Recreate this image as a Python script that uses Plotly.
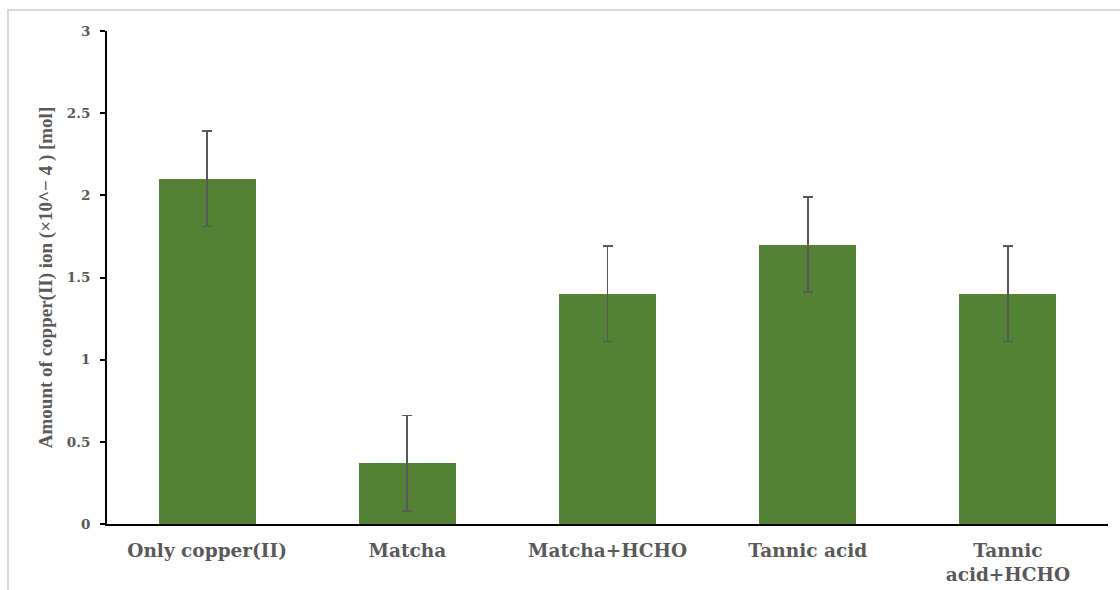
import plotly.graph_objects as go

categories = ["Only copper(II)", "Matcha", "Matcha+HCHO", "Tannic acid", "Tannic<br>acid+HCHO"]
amounts = [2.10, 0.37, 1.40, 1.70, 1.40]
errors = [0.29, 0.29, 0.29, 0.29, 0.29]
y_ticks = [0, 0.5, 1, 1.5, 2, 2.5, 3]
y_tick_labels = ["0", "0.5", "1", "1.5", "2", "2.5", "3"]

W, H = 1120, 590
L, R, T, B = 107, 12, 31, 66
pw, ph = W - L - R, H - T - B

def px_to_paper_x(px):
    return (px - L) / pw

def px_to_paper_y(py):
    return (H - B - py) / ph

WIDE = "DejaVu Serif"
SERIF = "Liberation Serif"
GRAY = "#595959"

fig = go.Figure()
fig.add_trace(go.Bar(
    x=categories,
    y=amounts,
    width=0.485,
    marker=dict(color="#548235", line=dict(width=0)),
    error_y=dict(type="data", array=errors, visible=True,
                 color=GRAY, thickness=1.8, width=5),
))

fig.update_layout(
    width=W, height=H,
    margin=dict(l=L, r=R, t=T, b=B, pad=0),
    plot_bgcolor="white", paper_bgcolor="white",
    showlegend=False,
    bargap=0,
    font=dict(family=SERIF, color=GRAY),
    xaxis=dict(
        showline=True, linecolor="black", linewidth=2,
        ticks="", showgrid=False, zeroline=False,
        tickfont=dict(family=WIDE, size=18.5, color=GRAY, weight="bold"),
        ticklabelstandoff=9,
        automargin=False,
    ),
    yaxis=dict(
        range=[0, 3], tickvals=y_ticks, ticktext=y_tick_labels,
        showline=True, linecolor="black", linewidth=2,
        ticks="outside", ticklen=5, tickcolor="black", tickwidth=1.5,
        showgrid=False, zeroline=False,
        tickfont=dict(family=WIDE, size=13.5, color=GRAY, weight="bold"),
        ticklabelstandoff=7,
        automargin=False,
        title=dict(text="Amount of copper(II) ion (×10^− 4 ) [mol]",
                   font=dict(family=SERIF, size=19, color=GRAY, weight="bold"),
                   standoff=9),
    ),
    shapes=[dict(
        type="rect", xref="paper", yref="paper",
        x0=px_to_paper_x(8), x1=px_to_paper_x(1130),
        y0=px_to_paper_y(600), y1=px_to_paper_y(10),
        line=dict(color="#d9d9d9", width=2), fillcolor="rgba(0,0,0,0)",
        layer="below",
    )],
)

fig.write_html("out.html")
